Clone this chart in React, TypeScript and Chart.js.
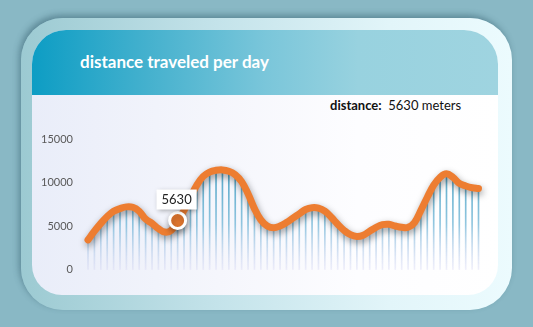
import React, { useEffect, useRef } from "react";
import { Chart, registerables } from "chart.js";

Chart.register(...registerables);

const TITLE = "distance traveled per day";
const VALUE_LABEL = "distance:";
const UNIT = "meters";

const DISTANCE = [
  3400, 4400, 5300, 6100, 6700, 7000, 7200, 7150, 6700, 5800,
  5300, 4700, 4300, 4500, 5630, 6800, 8300, 9700, 10700, 11200,
  11400, 11450, 11300, 10900, 10100, 8700, 7000, 5700, 5000, 4800,
  5000, 5400, 5900, 6400, 6900, 7100, 7050, 6700, 6000, 5200,
  4500, 4000, 3800, 3950, 4400, 4850, 5150, 5200, 5000, 4850,
  4850, 5400, 6800, 8300, 9700, 10600, 11000, 10600, 9900, 9600,
  9400, 9300,
];
const DAYS = DISTANCE.map((_, i) => `Day ${i + 1}`);
const Y_MIN = 0;
const Y_MAX = 15000;
const Y_STEP = 5000;
const HIGHLIGHT_INDEX = 14;

const FONT = "Lato, 'Open Sans', sans-serif";

const shadowPlugin = {
  id: "lineShadow",
  beforeDatasetDraw(chart: any, args: any) {
    if (chart.data.datasets[args.index].type !== "line") return;
    const ctx = chart.ctx;
    ctx.save();
    ctx.shadowColor = "rgba(0,0,0,0.4)";
    ctx.shadowBlur = 7;
    ctx.shadowOffsetX = 1;
    ctx.shadowOffsetY = 3;
  },
  afterDatasetDraw(chart: any, args: any) {
    if (chart.data.datasets[args.index].type !== "line") return;
    chart.ctx.restore();
  },
};

const calloutPlugin = {
  id: "callout",
  afterDatasetsDraw(chart: any) {
    const idx = chart.data.datasets.findIndex((d: any) => d.type === "line");
    const meta = chart.getDatasetMeta(idx);
    const pt = meta.data[HIGHLIGHT_INDEX];
    if (!pt) return;
    const ctx = chart.ctx;
    const text = String(DISTANCE[HIGHLIGHT_INDEX]);
    ctx.save();
    ctx.font = `13px ${FONT}`;
    const w = ctx.measureText(text).width + 10;
    const h = 20;
    const x = pt.x - w / 2 - 1;
    const y = pt.y - 11 - h;
    ctx.shadowColor = "rgba(0,0,0,0.35)";
    ctx.shadowBlur = 5;
    ctx.shadowOffsetX = 1;
    ctx.shadowOffsetY = 1;
    ctx.fillStyle = "#ffffff";
    ctx.fillRect(x, y, w, h);
    ctx.shadowColor = "transparent";
    ctx.fillStyle = "#222222";
    ctx.textAlign = "center";
    ctx.textBaseline = "middle";
    ctx.fillText(text, x + w / 2, y + h / 2 + 0.5);
    ctx.restore();
  },
};

export default function App() {
  const canvasRef = useRef<HTMLCanvasElement | null>(null);

  useEffect(() => {
    const canvas = canvasRef.current;
    if (!canvas) return;
    const chart = new Chart(canvas, {
      type: "bar",
      data: {
        labels: DAYS,
        datasets: [
          {
            type: "line",
            label: "distance",
            data: DISTANCE,
            order: 0,
            borderColor: "#ed7d31",
            borderWidth: 7,
            borderCapStyle: "round",
            borderJoinStyle: "round",
            tension: 0.4,
            fill: false,
            clip: false,
            pointRadius: (c: any) => (c.dataIndex === HIGHLIGHT_INDEX ? 8 : 0),
            pointBackgroundColor: "#ed7d31",
            pointBorderColor: "#ffffff",
            pointBorderWidth: 3,
          } as any,
          {
            type: "bar",
            label: "bars",
            data: DISTANCE,
            order: 1,
            barThickness: 1,
            clip: false,
            backgroundColor: (c: any) => {
              const area = c.chart.chartArea;
              if (!area) return "#5aa9c9";
              const g = c.chart.ctx.createLinearGradient(0, area.top + 30, 0, area.bottom);
              g.addColorStop(0, "rgba(40,145,185,0.8)");
              g.addColorStop(0.55, "rgba(100,175,210,0.7)");
              g.addColorStop(1, "rgba(205,205,240,0.3)");
              return g;
            },
          } as any,
        ],
      },
      options: {
        responsive: false,
        animation: false,
        events: [],
        layout: { padding: { left: 40, right: 54.5, top: 139, bottom: 57.5 } },
        plugins: {
          legend: { display: false },
          tooltip: { enabled: false },
        },
        scales: {
          x: {
            type: "category",
            display: false,
            offset: false,
            grid: { display: false },
          },
          y: {
            min: Y_MIN,
            max: Y_MAX,
            grid: { display: false, drawTicks: false },
            border: { display: false },
            ticks: {
              stepSize: Y_STEP,
              color: "#595959",
              padding: 15,
              font: { family: FONT, size: 11 },
              callback: (v: any) => String(v),
            },
            afterFit: (s: any) => {
              s.width = 48;
            },
          },
        },
      },
      plugins: [shadowPlugin, calloutPlugin],
    } as any);
    return () => chart.destroy();
  }, []);

  return (
    <div
      style={{
        position: "fixed",
        left: 0,
        top: 0,
        width: 533,
        height: 327,
        background: "#89b8c5",
        overflow: "hidden",
        fontFamily: FONT,
      }}
    >
      <div
        style={{
          position: "absolute",
          left: 21,
          top: 18,
          width: 491,
          height: 292,
          borderRadius: 42,
          background: "linear-gradient(90deg, #9ccad2 0%, #c4e3ea 40%, #e2f5f9 75%, #ecfbfe 100%)",
          boxShadow: "-2px -3px 6px rgba(40,80,95,0.45)",
        }}
      />
      <div
        style={{
          position: "absolute",
          left: 32,
          top: 30,
          width: 466,
          height: 265,
          borderRadius: "34px 34px 30px 30px",
          overflow: "hidden",
          background: "linear-gradient(90deg, #e9edf9 0%, #f5f6fc 40%, #fdfdff 70%, #ffffff 100%)",
        }}
      >
        <div
          style={{
            position: "absolute",
            left: 0,
            top: 0,
            width: "100%",
            height: 65,
            background: "linear-gradient(90deg, #0d9dc4 0%, #45b1ce 25%, #7ac6da 50%, #98d2df 70%, #9fd4e0 100%)",
          }}
        />
      </div>
      <div
        style={{
          position: "absolute",
          left: 80,
          top: 51,
          lineHeight: "22px",
          fontSize: 17,
          fontWeight: 700,
          color: "#ffffff",
          whiteSpace: "nowrap",
        }}
      >
        {TITLE}
      </div>
      <div
        style={{
          position: "absolute",
          left: 330,
          top: 96,
          lineHeight: "18px",
          fontSize: 13,
          color: "#111111",
          whiteSpace: "nowrap",
        }}
      >
        <span style={{ fontWeight: 700 }}>{VALUE_LABEL}</span>
        {"\u00a0\u00a0"}
        {DISTANCE[HIGHLIGHT_INDEX]} {UNIT}
      </div>
      <canvas
        ref={canvasRef}
        width={533}
        height={327}
        style={{ position: "absolute", left: 0, top: 0, width: 533, height: 327 }}
      />
    </div>
  );
}
